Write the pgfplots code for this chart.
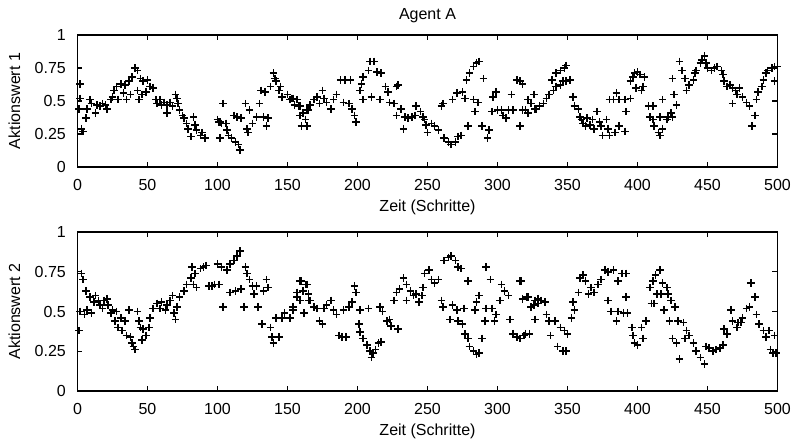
\documentclass[border=0pt]{standalone}
\usepackage{fontspec}
\setmainfont{Liberation Sans}
\usepackage{pgfplots}
\pgfplotsset{compat=1.18}
\usepackage{pgfplotstable}

\pgfplotstableread{
x y
1 0.44
2 0.63
2 0.52
3 0.29
4 0.27
6 0.37
7 0.44
9 0.51
10 0.48
13 0.41
14 0.47
16 0.46
18 0.48
20 0.47
21 0.44
24 0.51
25 0.53
26 0.58
28 0.61
29 0.51
31 0.63
33 0.56
34 0.62
35 0.51
37 0.65
38 0.55
39 0.68
41 0.75
43 0.73
43 0.58
44 0.51
45 0.67
46 0.55
47 0.65
49 0.57
50 0.66
52 0.61
54 0.60
56 0.51
57 0.48
59 0.51
60 0.47
62 0.49
64 0.41
64 0.47
66 0.49
68 0.46
70 0.55
71 0.52
72 0.48
73 0.43
75 0.39
76 0.37
78 0.33
79 0.29
81 0.23
83 0.38
84 0.32
85 0.28
88 0.24
89 0.26
91 0.22
100 0.36
101 0.34
102 0.34
103 0.33
104 0.48
102 0.22
106 0.33
107 0.28
108 0.24
110 0.22
113 0.19
115 0.17
116 0.13
112 0.39
114 0.38
117 0.37
120 0.48
121 0.29
122 0.26
123 0.43
125 0.33
128 0.38
130 0.48
131 0.58
133 0.38
134 0.57
135 0.31
136 0.37
138 0.61
140 0.71
141 0.67
142 0.65
144 0.58
145 0.61
146 0.53
150 0.55
152 0.51
153 0.52
154 0.52
155 0.47
157 0.51
158 0.46
159 0.39
159 0.46
160 0.31
161 0.41
163 0.36
164 0.31
164 0.43
165 0.43
166 0.47
169 0.51
171 0.53
173 0.48
175 0.58
176 0.52
178 0.49
181 0.44
183 0.51
185 0.55
188 0.66
190 0.49
191 0.66
194 0.48
195 0.66
196 0.44
198 0.39
199 0.34
202 0.58
203 0.63
204 0.68
204 0.51
208 0.73
209 0.80
210 0.53
212 0.80
214 0.72
216 0.51
217 0.71
220 0.61
222 0.57
223 0.49
226 0.48
228 0.61
228 0.39
229 0.62
231 0.44
233 0.29
234 0.38
236 0.37
239 0.38
241 0.39
242 0.46
245 0.42
247 0.38
248 0.36
249 0.32
250 0.26
253 0.33
255 0.31
258 0.28
260 0.46
261 0.48
262 0.22
265 0.19
267 0.17
268 0.51
270 0.19
271 0.56
272 0.23
274 0.24
275 0.57
277 0.52
278 0.66
279 0.31
280 0.71
283 0.76
283 0.51
284 0.42
285 0.79
286 0.49
287 0.80
289 0.31
290 0.67
293 0.22
294 0.28
296 0.42
297 0.53
299 0.57
300 0.43
303 0.43
304 0.39
306 0.37
308 0.43
310 0.55
311 0.43
314 0.66
316 0.65
316 0.31
318 0.63
318 0.43
320 0.43
322 0.51
322 0.41
324 0.48
326 0.55
327 0.44
328 0.44
330 0.46
333 0.48
335 0.52
337 0.55
339 0.66
340 0.58
342 0.61
342 0.71
345 0.62
345 0.73
347 0.65
348 0.75
349 0.77
349 0.65
352 0.66
354 0.53
355 0.46
358 0.44
359 0.38
360 0.36
361 0.33
363 0.31
364 0.37
366 0.32
368 0.36
369 0.29
371 0.42
373 0.34
374 0.31
375 0.24
378 0.36
379 0.29
380 0.24
380 0.51
383 0.51
384 0.26
385 0.56
387 0.51
387 0.31
391 0.27
391 0.51
392 0.42
395 0.52
395 0.65
397 0.68
398 0.71
399 0.60
400 0.72
402 0.70
403 0.58
404 0.61
405 0.68
408 0.46
409 0.38
411 0.46
411 0.36
412 0.31
415 0.26
416 0.24
416 0.38
418 0.29
418 0.51
421 0.36
422 0.38
424 0.41
425 0.38
425 0.67
426 0.55
428 0.47
430 0.80
432 0.73
434 0.67
435 0.58
437 0.62
440 0.66
441 0.71
442 0.73
445 0.79
446 0.81
448 0.84
449 0.79
450 0.75
453 0.73
455 0.75
457 0.76
460 0.73
461 0.70
462 0.65
464 0.61
466 0.62
468 0.60
468 0.48
470 0.58
471 0.55
473 0.60
475 0.53
478 0.49
480 0.46
482 0.31
484 0.39
485 0.51
486 0.57
489 0.61
490 0.66
492 0.71
493 0.73
496 0.75
498 0.76
500 0.76
498 0.65
}\agentone

\pgfplotstableread{
x y
1 0.38
2 0.50
3 0.74
4 0.70
5 0.48
6 0.63
7 0.51
9 0.59
10 0.49
12 0.56
13 0.60
15 0.57
16 0.54
18 0.52
19 0.57
21 0.58
22 0.54
24 0.49
25 0.51
27 0.44
28 0.50
29 0.40
31 0.46
32 0.38
34 0.44
35 0.35
37 0.51
38 0.34
39 0.30
40 0.28
41 0.26
43 0.50
44 0.44
45 0.40
46 0.32
47 0.39
49 0.35
51 0.40
52 0.46
54 0.52
57 0.55
59 0.52
60 0.56
63 0.51
64 0.54
66 0.57
68 0.60
69 0.49
70 0.45
71 0.53
73 0.59
76 0.63
78 0.67
81 0.71
82 0.78
83 0.67
84 0.74
85 0.65
88 0.77
90 0.78
92 0.79
94 0.66
96 0.66
98 0.67
100 0.80
101 0.67
103 0.78
104 0.53
107 0.76
109 0.80
109 0.62
112 0.82
113 0.63
114 0.85
116 0.88
117 0.64
119 0.53
120 0.78
121 0.74
123 0.70
125 0.66
126 0.61
128 0.66
129 0.53
132 0.42
133 0.63
135 0.70
136 0.65
138 0.40
139 0.34
140 0.30
142 0.46
144 0.34
146 0.46
148 0.49
152 0.46
154 0.51
154 0.53
157 0.59
157 0.62
159 0.69
159 0.57
160 0.69
161 0.63
162 0.49
163 0.67
164 0.67
165 0.57
165 0.61
166 0.57
169 0.53
171 0.52
173 0.44
175 0.42
176 0.52
178 0.54
181 0.57
183 0.51
185 0.48
187 0.35
189 0.34
190 0.51
192 0.34
194 0.53
196 0.56
198 0.66
199 0.62
201 0.42
202 0.51
202 0.37
204 0.33
207 0.29
208 0.52
209 0.25
210 0.21
211 0.24
213 0.26
215 0.30
216 0.53
217 0.31
218 0.50
221 0.44
223 0.45
224 0.41
226 0.57
228 0.62
229 0.39
230 0.64
233 0.71
235 0.57
235 0.67
238 0.63
240 0.60
242 0.61
244 0.56
246 0.60
247 0.65
248 0.74
251 0.76
253 0.70
255 0.68
258 0.70
260 0.57
261 0.53
262 0.82
265 0.84
266 0.45
267 0.85
268 0.54
270 0.82
271 0.51
272 0.78
272 0.44
274 0.77
275 0.42
276 0.52
277 0.36
279 0.33
279 0.69
280 0.28
283 0.25
284 0.51
285 0.23
285 0.56
287 0.24
287 0.60
289 0.33
291 0.44
292 0.52
292 0.78
295 0.70
296 0.52
298 0.44
299 0.48
302 0.57
303 0.67
305 0.63
308 0.60
309 0.45
311 0.36
314 0.34
316 0.33
316 0.69
317 0.69
318 0.58
319 0.35
320 0.36
321 0.59
322 0.59
323 0.36
324 0.53
326 0.54
327 0.57
327 0.45
329 0.55
329 0.58
331 0.57
334 0.56
335 0.48
337 0.44
338 0.35
341 0.44
343 0.28
345 0.40
347 0.25
348 0.38
349 0.25
350 0.36
353 0.46
354 0.56
355 0.51
358 0.62
359 0.71
361 0.73
363 0.69
365 0.61
367 0.65
369 0.62
372 0.67
374 0.70
377 0.76
379 0.75
379 0.57
381 0.50
383 0.76
385 0.44
386 0.69
386 0.50
389 0.74
390 0.49
392 0.74
392 0.59
393 0.49
396 0.40
397 0.35
398 0.30
400 0.29
403 0.40
404 0.33
406 0.44
409 0.65
410 0.55
411 0.69
412 0.55
413 0.73
414 0.61
416 0.76
417 0.61
418 0.68
419 0.51
421 0.65
422 0.61
423 0.44
424 0.57
425 0.33
427 0.53
428 0.30
429 0.44
430 0.20
433 0.43
434 0.33
435 0.38
437 0.35
440 0.30
442 0.25
445 0.21
448 0.17
449 0.28
451 0.27
454 0.25
456 0.26
459 0.27
461 0.29
462 0.39
464 0.36
467 0.51
468 0.44
471 0.40
472 0.43
474 0.43
475 0.46
478 0.52
480 0.53
481 0.68
484 0.59
485 0.48
487 0.42
490 0.38
492 0.34
494 0.38
495 0.26
497 0.24
498 0.35
499 0.24
}\agenttwo

\pgfplotsset{
  panel/.style={
    scale only axis,
    width=350pt,
    xmin=0, xmax=500,
    ymin=0, ymax=1,
    xtick={0,50,...,500},
    ytick={0,0.25,0.5,0.75,1},
    tick align=inside,
    major tick length=2.5pt,
    axis line style={line width=0.8pt},
    every tick/.style={black, line width=0.6pt},
    /pgf/number format/assume math mode=true,
    tick label style={font=\fontsize{8}{9.6}\selectfont},
    xticklabel style={yshift=-2.4pt},
    yticklabel style={xshift=-2.3pt},
    label style={font=\fontsize{8}{9.6}\selectfont},
    xlabel={Zeit (Schritte)},
    xlabel style={at={(axis description cs:0.5,0)}, anchor=base, yshift=-22.5pt},
    ylabel style={at={(axis description cs:-0.09,0.5)}, anchor=center},
    clip=false,
  },
  pts/.style={only marks, mark=+, mark size=1.9pt, line width=0.8pt, black},
}

\begin{document}
\begin{tikzpicture}
\path[use as bounding box] (0,0) rectangle (397pt,222pt);
\begin{axis}[panel,
  at={(38.75pt,138.5pt)}, anchor=south west,
  height=66pt,
  ylabel={Aktionswert 1},
  title={Agent A},
  title style={at={(axis description cs:0.5,1)}, anchor=base, yshift=1.5pt, inner sep=0pt, font=\fontsize{8}{9.6}\selectfont},
]
\addplot[pts] table[x=x,y=y] {\agentone};
\end{axis}
\begin{axis}[panel,
  at={(38.75pt,26.5pt)}, anchor=south west,
  height=79.5pt,
  ylabel={Aktionswert 2},
]
\addplot[pts] table[x=x,y=y] {\agenttwo};
\end{axis}
\end{tikzpicture}
\end{document}
